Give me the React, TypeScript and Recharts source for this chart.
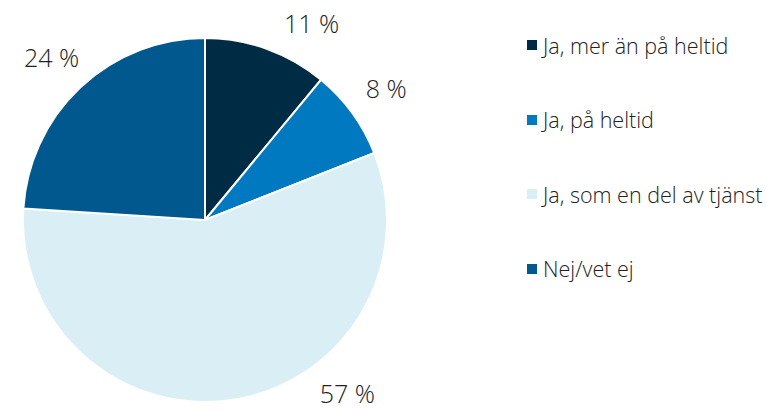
import React from 'react';
import { PieChart, Pie, Cell, Legend } from 'recharts';

const categories = ['Ja, mer än på heltid', 'Ja, på heltid', 'Ja, som en del av tjänst', 'Nej/vet ej'];
const shares = [11, 8, 57, 24];
const colors = ['#002b45', '#0079c0', '#daeef6', '#00588f'];

const data = categories.map((name, i) => ({ name, value: shares[i] }));

const RAD = Math.PI / 180;
const LABEL_R = 224;
const TOP_Y = 23;
const BOTTOM_Y = 393;

const renderLabel = (props: any) => {
  const { cx, cy, midAngle, value } = props;
  let x = cx + LABEL_R * Math.cos(-midAngle * RAD);
  let y = cy + LABEL_R * Math.sin(-midAngle * RAD);
  // keep labels inside the frame by sliding them along the label circle
  if (y < TOP_Y || y > BOTTOM_Y) {
    y = y < TOP_Y ? TOP_Y : BOTTOM_Y;
    const dy = y - cy;
    const side = x >= cx ? 1 : -1;
    x = cx + side * Math.sqrt(LABEL_R * LABEL_R - dy * dy);
  }
  return (
    <text
      x={x}
      y={y}
      textAnchor="middle"
      dominantBaseline="central"
      fill="#222222"
      fontSize={25}
      fontWeight={300}
      fontFamily="'Open Sans', sans-serif"
    >
      {`${value} %`}
    </text>
  );
};

const renderLegend = (props: any) => {
  const { payload } = props;
  return (
    <div style={{ fontFamily: "'Open Sans', sans-serif" }}>
      {payload.map((entry: any) => (
        <div key={entry.value} style={{ display: 'flex', alignItems: 'center', height: 74.5 }}>
          <span style={{ width: 10, height: 10, background: entry.color, marginRight: 6, flexShrink: 0 }} />
          <span style={{ fontSize: 21.5, fontWeight: 300, color: '#222222', whiteSpace: 'nowrap' }}>{entry.value}</span>
        </div>
      ))}
    </div>
  );
};

export default function App() {
  return (
    <div style={{ position: 'absolute', top: 0, left: 0, width: 766, height: 410, background: '#fff' }}>
      <PieChart width={766} height={410} margin={{ top: 0, right: 0, bottom: 0, left: 0 }}>
        <Pie
          data={data}
          dataKey="value"
          nameKey="name"
          cx={205}
          cy={220}
          outerRadius={182}
          startAngle={90}
          endAngle={-270}
          stroke="#ffffff"
          strokeWidth={2}
          label={renderLabel}
          labelLine={false}
          isAnimationActive={false}
        >
          {data.map((d, i) => (
            <Cell key={d.name} fill={colors[i]} />
          ))}
        </Pie>
        <Legend
          layout="vertical"
          align="right"
          verticalAlign="top"
          content={renderLegend}
          wrapperStyle={{ left: 527, top: 8, width: 239 }}
        />
      </PieChart>
    </div>
  );
}
